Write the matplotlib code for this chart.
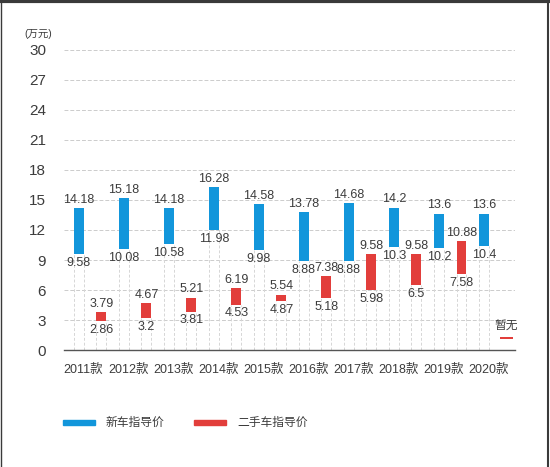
import matplotlib.pyplot as plt
import numpy as np
from matplotlib.lines import Line2D
from matplotlib.patches import Rectangle

plt.rcParams['font.family'] = ['Liberation Sans', 'Noto Sans CJK SC', 'DejaVu Sans']

# data
years = ['2011款', '2012款', '2013款', '2014款', '2015款',
         '2016款', '2017款', '2018款', '2019款', '2020款']
new_high = [14.18, 15.18, 14.18, 16.28, 14.58, 13.78, 14.68, 14.2, 13.6, 13.6]
new_low = [9.58, 10.08, 10.58, 11.98, 9.98, 8.88, 8.88, 10.3, 10.2, 10.4]
used_high = [3.79, 4.67, 5.21, 6.19, 5.54, 7.38, 9.58, 9.58, 10.88]
used_low = [2.86, 3.2, 3.81, 4.53, 4.87, 5.18, 5.98, 6.5, 7.58]
used_na_label = '暂无'
used_na_mark = 1.23   # small placeholder mark for 2020
new_label = '新车指导价'
used_label = '二手车指导价'

blue = '#1296db'
red = '#e23e3b'
txt = '#3c3c3c'

fig = plt.figure(figsize=(5.5, 4.67), dpi=100)
ax = fig.add_axes([0.1164, 0.2505, 0.82, 0.6425])

x = np.arange(len(years))
w = 0.22
xb = x - 0.1
xr = x + 0.40

# dashed outlines below the floating bars
for xi, lo in zip(xb, new_low):
    ax.vlines([xi - w / 2, xi + w / 2], 0, lo, colors='#d6d6d6', linestyles=(0, (3, 2)), lw=0.7, zorder=1)
for xi, lo in zip(xr[:len(used_low)], used_low):
    ax.vlines([xi - w / 2, xi + w / 2], 0, lo, colors='#d6d6d6', linestyles=(0, (3, 2)), lw=0.7, zorder=1)

nh = np.array(new_high)
nl = np.array(new_low)
uh = np.array(used_high)
ul = np.array(used_low)

ax.bar(xb, nh - nl, w, bottom=nl, color=blue, zorder=3)
ax.bar(xr[:len(uh)], uh - ul, w, bottom=ul, color=red, zorder=3)
# 2020: no used price, only a thin mark
ax.bar(xr[-1], 0.2, w * 1.4, bottom=used_na_mark - 0.1, color=red, zorder=3)
ax.text(xr[-1], used_na_mark + 0.5, used_na_label, ha='center', va='bottom', fontsize=8.5, color=txt)

fs = 9
for xi, hi, lo in zip(xb, new_high, new_low):
    ax.text(xi, hi + 0.25, f'{hi:g}', ha='center', va='bottom', fontsize=fs, color=txt, zorder=4)
    ax.text(xi, lo - 0.25, f'{lo:g}', ha='center', va='top', fontsize=fs, color=txt, zorder=4)
for xi, hi, lo in zip(xr, used_high, used_low):
    ax.text(xi, hi + 0.25, f'{hi:g}', ha='center', va='bottom', fontsize=fs, color=txt, zorder=4)
    ax.text(xi, lo - 0.25, f'{lo:g}', ha='center', va='top', fontsize=fs, color=txt, zorder=4)

ax.set_xlim(-0.43, 9.59)
ax.set_ylim(0, 30)
ax.set_yticks(np.arange(0, 31, 3))
ax.set_xticks(x)
ax.set_xticklabels(years, fontsize=9, color=txt)
ax.tick_params(axis='y', length=0, pad=13, labelsize=11, labelcolor=txt)
ax.tick_params(axis='x', length=0, pad=10)
ax.yaxis.grid(True, color='#cccccc', linestyle=(0, (4, 2)), lw=0.7, zorder=0)
ax.set_axisbelow(True)
for s in ['top', 'right', 'left']:
    ax.spines[s].set_visible(False)
ax.spines['bottom'].set_color('#555555')
ax.spines['bottom'].set_linewidth(1)

fig.text(0.045, 0.928, '(万元)', fontsize=7.5, color=txt, va='center')

# legend
fig.patches.append(Rectangle((63 / 550, 1 - 425 / 467), 32 / 550, 5 / 467,
                             transform=fig.transFigure, color=blue))
fig.text(106 / 550, 1 - 422.5 / 467, new_label, fontsize=8.5, color=txt, va='center')
fig.patches.append(Rectangle((194 / 550, 1 - 425 / 467), 32 / 550, 5 / 467,
                             transform=fig.transFigure, color=red))
fig.text(237 / 550, 1 - 422.5 / 467, used_label, fontsize=8.5, color=txt, va='center')

# screenshot frame
fig.add_artist(Line2D([0, 1], [0.997, 0.997], transform=fig.transFigure, color='#3a3a3a', lw=3))
fig.add_artist(Line2D([0.002, 0.002], [0, 1], transform=fig.transFigure, color='#3a3a3a', lw=1))
fig.add_artist(Line2D([0.996, 0.996], [0, 1], transform=fig.transFigure, color='#3a3a3a', lw=1.5))

fig.savefig('out.png', dpi=100)
